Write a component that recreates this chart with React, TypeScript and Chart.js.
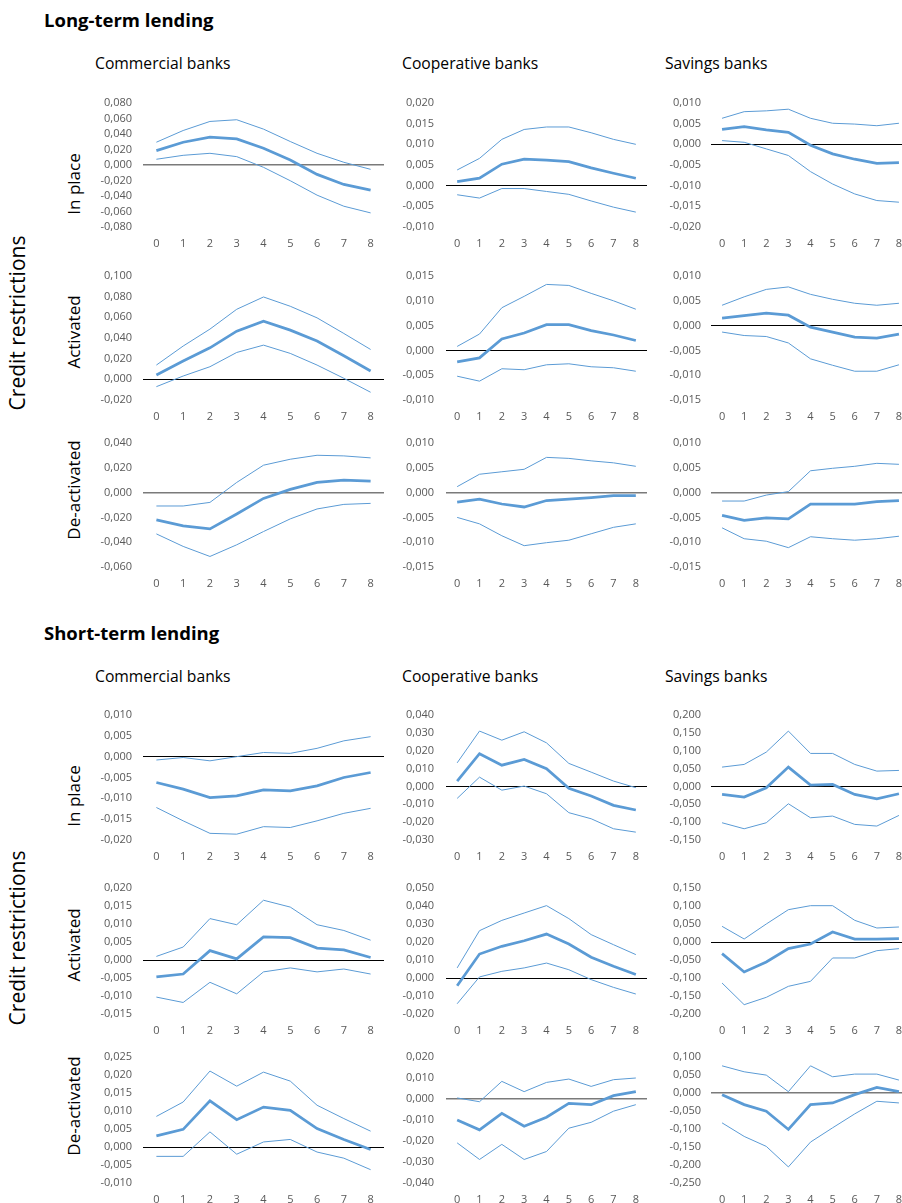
import React, { useEffect, useRef } from 'react';
import { Chart, registerables } from 'chart.js';
Chart.register(...registerables);

// ---------- categories ----------
const periods = ['0', '1', '2', '3', '4', '5', '6', '7', '8'];
const sectionTitles = ['Long-term lending', 'Short-term lending'];
const bankTypes = ['Commercial banks', 'Cooperative banks', 'Savings banks'];
const scenarios = ['In place', 'Activated', 'De-activated'];
const sideTitle = 'Credit restrictions';

// ---------- Long-term lending ----------
const ltComInPlaceMid = [0.0186, 0.0294, 0.0359, 0.0337, 0.0216, 0.0065, -0.0121, -0.0251, -0.0324];
const ltComInPlaceUp = [0.0294, 0.0445, 0.0562, 0.0584, 0.0463, 0.0303, 0.0151, 0.0035, -0.0056];
const ltComInPlaceLo = [0.0074, 0.0125, 0.0151, 0.0108, -0.003, -0.0203, -0.0389, -0.0532, -0.0618];

const ltCoopInPlaceMid = [0.001, 0.0018, 0.0052, 0.0064, 0.0062, 0.0058, 0.0043, 0.003, 0.0018];
const ltCoopInPlaceUp = [0.0038, 0.0066, 0.0112, 0.0136, 0.0142, 0.0142, 0.0128, 0.0112, 0.01];
const ltCoopInPlaceLo = [-0.0022, -0.003, -0.0007, -0.0007, -0.0014, -0.0021, -0.0037, -0.0052, -0.0064];

const ltSavInPlaceMid = [0.0036, 0.0043, 0.0035, 0.0029, -0.0002, -0.0023, -0.0036, -0.0046, -0.0044];
const ltSavInPlaceUp = [0.0063, 0.0079, 0.0081, 0.0085, 0.0063, 0.0051, 0.0049, 0.0045, 0.0051];
const ltSavInPlaceLo = [0.0009, 0.0005, -0.0011, -0.0027, -0.0066, -0.0096, -0.012, -0.0136, -0.014];

const ltComActMid = [0.0042, 0.0177, 0.0305, 0.0466, 0.0563, 0.0476, 0.037, 0.0228, 0.008];
const ltComActUp = [0.0138, 0.0322, 0.0486, 0.0678, 0.0797, 0.0707, 0.0595, 0.0444, 0.0289];
const ltComActLo = [-0.0071, 0.0032, 0.0122, 0.026, 0.0331, 0.0251, 0.0138, 0.001, -0.0125];

const ltCoopActMid = [-0.0023, -0.0015, 0.0023, 0.0035, 0.0052, 0.0052, 0.004, 0.0031, 0.002];
const ltCoopActUp = [0.0008, 0.0033, 0.0086, 0.0109, 0.0133, 0.0131, 0.0115, 0.01, 0.0083];
const ltCoopActLo = [-0.0052, -0.0062, -0.0037, -0.0039, -0.0029, -0.0027, -0.0033, -0.0035, -0.0042];

const ltSavActMid = [0.0015, 0.002, 0.0025, 0.0021, -0.0003, -0.0013, -0.0023, -0.0025, -0.0017];
const ltSavActUp = [0.0041, 0.0058, 0.0073, 0.0078, 0.0063, 0.0053, 0.0045, 0.0041, 0.0045];
const ltSavActLo = [-0.0013, -0.002, -0.0022, -0.0035, -0.0067, -0.008, -0.0092, -0.0092, -0.0079];

const ltComDeactMid = [-0.022, -0.0268, -0.0293, -0.0172, -0.0047, 0.0026, 0.0082, 0.0101, 0.0093];
const ltComDeactUp = [-0.0108, -0.0108, -0.0079, 0.0082, 0.0221, 0.0269, 0.0301, 0.0296, 0.028];
const ltComDeactLo = [-0.0333, -0.0434, -0.0515, -0.0421, -0.0314, -0.0212, -0.0132, -0.0095, -0.0087];

const ltCoopDeactMid = [-0.0019, -0.0013, -0.0023, -0.0029, -0.0016, -0.0013, -0.001, -0.0006, -0.0006];
const ltCoopDeactUp = [0.0012, 0.0037, 0.0042, 0.0047, 0.0071, 0.0069, 0.0064, 0.006, 0.0053];
const ltCoopDeactLo = [-0.005, -0.0063, -0.0087, -0.0107, -0.0101, -0.0096, -0.0083, -0.007, -0.0063];

const ltSavDeactMid = [-0.0046, -0.0056, -0.0051, -0.0053, -0.0023, -0.0023, -0.0023, -0.0018, -0.0016];
const ltSavDeactUp = [-0.0017, -0.0017, -0.0005, 0.0002, 0.0044, 0.0049, 0.0053, 0.0059, 0.0057];
const ltSavDeactLo = [-0.0071, -0.0093, -0.0098, -0.0111, -0.0089, -0.0093, -0.0096, -0.0093, -0.0088];

// ---------- Short-term lending ----------
const stComInPlaceMid = [-0.0062, -0.0078, -0.0098, -0.0094, -0.008, -0.0082, -0.007, -0.005, -0.0038];
const stComInPlaceUp = [-0.0008, -0.0002, -0.001, 0, 0.001, 0.0008, 0.002, 0.0038, 0.0048];
const stComInPlaceLo = [-0.0122, -0.0154, -0.0184, -0.0186, -0.0168, -0.017, -0.0154, -0.0136, -0.0124];

const stCoopInPlaceMid = [0.003, 0.0183, 0.0119, 0.0151, 0.0099, -0.0011, -0.0054, -0.0106, -0.0132];
const stCoopInPlaceUp = [0.0132, 0.031, 0.0259, 0.0306, 0.0244, 0.0129, 0.008, 0.003, -0.0007];
const stCoopInPlaceLo = [-0.0067, 0.0052, -0.0021, 0.0002, -0.0041, -0.0147, -0.0181, -0.0237, -0.0256];

const stSavInPlaceMid = [-0.0224, -0.0299, -0.0037, 0.0541, 0.0037, 0.0056, -0.0224, -0.0345, -0.0205];
const stSavInPlaceUp = [0.0541, 0.0616, 0.0961, 0.1549, 0.0924, 0.0924, 0.0616, 0.0429, 0.0448];
const stSavInPlaceLo = [-0.1017, -0.1185, -0.1017, -0.0485, -0.0877, -0.083, -0.1063, -0.111, -0.0812];

const stComActMid = [-0.0047, -0.0039, 0.0026, 0.0003, 0.0064, 0.0062, 0.0033, 0.0028, 0.0007];
const stComActUp = [0.001, 0.0036, 0.0115, 0.0098, 0.0166, 0.0147, 0.0098, 0.0082, 0.0055];
const stComActLo = [-0.0103, -0.0118, -0.0062, -0.0094, -0.0033, -0.0022, -0.0033, -0.0025, -0.0039];

const stCoopActMid = [-0.0043, 0.0133, 0.0176, 0.0207, 0.0244, 0.0189, 0.0115, 0.0065, 0.0019];
const stCoopActUp = [0.0056, 0.0263, 0.032, 0.0361, 0.0402, 0.033, 0.0241, 0.0185, 0.013];
const stCoopActLo = [-0.0143, 0.0006, 0.0037, 0.0056, 0.0083, 0.0046, -0.0009, -0.0052, -0.0089];

const stSavActMid = [-0.0324, -0.0833, -0.0556, -0.0185, -0.0056, 0.0278, 0.0083, 0.0083, 0.0093];
const stSavActUp = [0.0435, 0.0083, 0.05, 0.0898, 0.1009, 0.1009, 0.0602, 0.0389, 0.0417];
const stSavActLo = [-0.1139, -0.1741, -0.1537, -0.1231, -0.1093, -0.0444, -0.0444, -0.0241, -0.0185];

const stComDeactMid = [0.0031, 0.0049, 0.0128, 0.0076, 0.0111, 0.0102, 0.0051, 0.0021, -0.0007];
const stComDeactUp = [0.0085, 0.0125, 0.0211, 0.0169, 0.0208, 0.0183, 0.0116, 0.0079, 0.0044];
const stComDeactLo = [-0.0026, -0.0026, 0.0042, -0.002, 0.0014, 0.0021, -0.0014, -0.0031, -0.0063];

const stCoopDeactMid = [-0.01, -0.0147, -0.0068, -0.013, -0.0087, -0.0021, -0.0027, 0.0016, 0.0035];
const stCoopDeactUp = [0.0005, -0.0013, 0.0084, 0.0035, 0.0079, 0.0095, 0.006, 0.0092, 0.01];
const stCoopDeactLo = [-0.0209, -0.0288, -0.0216, -0.0288, -0.025, -0.0139, -0.0111, -0.0058, -0.0027];

const stSavDeactMid = [-0.0046, -0.0322, -0.0506, -0.1013, -0.0322, -0.0276, -0.0046, 0.0157, 0.0037];
const stSavDeactUp = [0.0755, 0.0589, 0.0497, 0.0037, 0.0755, 0.0451, 0.0525, 0.0525, 0.0359];
const stSavDeactLo = [-0.0829, -0.1206, -0.1483, -0.2053, -0.1363, -0.0967, -0.058, -0.023, -0.0276];

// ---------- y-axis ranges [min, max, step] per panel ----------
const yRangesLT = [
  [[-0.08, 0.08, 0.02], [-0.01, 0.02, 0.005], [-0.02, 0.01, 0.005]],
  [[-0.02, 0.1, 0.02], [-0.01, 0.015, 0.005], [-0.015, 0.01, 0.005]],
  [[-0.06, 0.04, 0.02], [-0.015, 0.01, 0.005], [-0.015, 0.01, 0.005]],
];
const yRangesST = [
  [[-0.02, 0.01, 0.005], [-0.03, 0.04, 0.01], [-0.15, 0.2, 0.05]],
  [[-0.015, 0.02, 0.005], [-0.02, 0.05, 0.01], [-0.2, 0.15, 0.05]],
  [[-0.01, 0.025, 0.005], [-0.04, 0.02, 0.01], [-0.25, 0.1, 0.05]],
];

// ---------- layout / style ----------
const BLUE = '#5B9BD5';
const TICK_COLOR = '#595959';
const FONT = '"Open Sans", "Noto Sans", sans-serif';
const TICK_SIZE = 11;
const COLS = [
  { left: 143, right: 384, pad: 11 },
  { left: 446, right: 647, pad: 12 },
  { left: 711, right: 910, pad: 10 },
];
const ROWS = [
  { top: 103, bottom: 227 },
  { top: 276, bottom: 400 },
  { top: 443, bottom: 567 },
  { top: 715, bottom: 840 },
  { top: 888, bottom: 1014 },
  { top: 1057, bottom: 1183 },
];
const Y_W = 60;
const X_H = 30;
const PAD_T = 10;
const PAD_R = 2;
const GRAY_ZERO = [
  [true, false, false],
  [false, false, false],
  [true, true, true],
  [false, false, false],
  [false, false, false],
  [false, true, true],
];

const seriesLT = [
  [[ltComInPlaceMid, ltComInPlaceUp, ltComInPlaceLo], [ltCoopInPlaceMid, ltCoopInPlaceUp, ltCoopInPlaceLo], [ltSavInPlaceMid, ltSavInPlaceUp, ltSavInPlaceLo]],
  [[ltComActMid, ltComActUp, ltComActLo], [ltCoopActMid, ltCoopActUp, ltCoopActLo], [ltSavActMid, ltSavActUp, ltSavActLo]],
  [[ltComDeactMid, ltComDeactUp, ltComDeactLo], [ltCoopDeactMid, ltCoopDeactUp, ltCoopDeactLo], [ltSavDeactMid, ltSavDeactUp, ltSavDeactLo]],
];
const seriesST = [
  [[stComInPlaceMid, stComInPlaceUp, stComInPlaceLo], [stCoopInPlaceMid, stCoopInPlaceUp, stCoopInPlaceLo], [stSavInPlaceMid, stSavInPlaceUp, stSavInPlaceLo]],
  [[stComActMid, stComActUp, stComActLo], [stCoopActMid, stCoopActUp, stCoopActLo], [stSavActMid, stSavActUp, stSavActLo]],
  [[stComDeactMid, stComDeactUp, stComDeactLo], [stCoopDeactMid, stCoopDeactUp, stCoopDeactLo], [stSavDeactMid, stSavDeactUp, stSavDeactLo]],
];

const fmt = (v: number) => {
  if (Math.abs(v) < 1e-9) return '0,000';
  return (v < 0 ? '-' : '') + Math.abs(v).toFixed(3).replace('.', ',');
};

type PanelDef = {
  key: string;
  mid: number[];
  up: number[];
  lo: number[];
  min: number;
  max: number;
  step: number;
  row: number;
  col: number;
  gray: boolean;
};

const panels: PanelDef[] = [];
[seriesLT, seriesST].forEach((sec, s) => {
  const ranges = s === 0 ? yRangesLT : yRangesST;
  sec.forEach((rowSeries, r) => {
    rowSeries.forEach((trip, c) => {
      const row = s * 3 + r;
      panels.push({
        key: `${row}-${c}`,
        mid: trip[0],
        up: trip[1],
        lo: trip[2],
        min: ranges[r][c][0],
        max: ranges[r][c][1],
        step: ranges[r][c][2],
        row,
        col: c,
        gray: GRAY_ZERO[row][c],
      });
    });
  });
});

function Panel({ p }: { p: PanelDef }) {
  const ref = useRef<HTMLCanvasElement>(null);
  const col = COLS[p.col];
  const row = ROWS[p.row];
  const w = Y_W + (col.right - col.left) + PAD_R;
  const h = PAD_T + (row.bottom - row.top) + X_H;
  const left = col.left - Y_W;
  const top = row.top - PAD_T;

  useEffect(() => {
    const zeroColor = p.gray ? '#7a7a7a' : '#000000';
    const zeroWidth = p.gray ? 1.6 : 1;
    const isZero = (ctx: any) => ctx.tick && Math.abs(ctx.tick.value) < 1e-9;
    const chart = new Chart(ref.current as HTMLCanvasElement, {
      type: 'line',
      data: {
        labels: periods,
        datasets: [
          { data: p.mid, borderColor: BLUE, borderWidth: 2.75, pointRadius: 0, tension: 0, fill: false },
          { data: p.up, borderColor: BLUE, borderWidth: 1, pointRadius: 0, tension: 0, fill: false },
          { data: p.lo, borderColor: BLUE, borderWidth: 1, pointRadius: 0, tension: 0, fill: false },
        ],
      },
      options: {
        animation: false,
        responsive: false,
        maintainAspectRatio: false,
        events: [],
        layout: { padding: { top: PAD_T, right: PAD_R, left: 0, bottom: 0 } },
        plugins: { legend: { display: false }, tooltip: { enabled: false }, title: { display: false } },
        scales: {
          x: {
            type: 'category',
            offset: true,
            grid: { display: false, drawTicks: false },
            border: { display: false },
            ticks: { padding: 10, color: TICK_COLOR, font: { family: FONT, size: TICK_SIZE }, autoSkip: false, maxRotation: 0 },
            afterFit: (s: any) => {
              s.height = X_H;
              s.paddingLeft = 0;
              s.paddingRight = 0;
            },
          },
          y: {
            type: 'linear',
            min: p.min,
            max: p.max,
            ticks: {
              stepSize: p.step,
              padding: col.pad,
              color: TICK_COLOR,
              font: { family: FONT, size: TICK_SIZE },
              autoSkip: false,
              callback: (v: any) => fmt(Number(v)),
            },
            grid: {
              drawTicks: false,
              color: (ctx: any) => (isZero(ctx) ? zeroColor : 'rgba(0,0,0,0)'),
              lineWidth: (ctx: any) => (isZero(ctx) ? zeroWidth : 0),
            },
            border: { display: false },
            afterFit: (s: any) => {
              s.width = Y_W;
              s.paddingTop = 0;
              s.paddingBottom = 0;
            },
          },
        },
      },
    } as any);
    return () => chart.destroy();
  }, []);

  return (
    <canvas
      ref={ref}
      width={w}
      height={h}
      style={{ position: 'absolute', left, top, width: w, height: h }}
    />
  );
}

const textBase: React.CSSProperties = {
  position: 'absolute',
  fontFamily: FONT,
  color: '#000',
  whiteSpace: 'nowrap',
};

function Rotated({ text, cx, cy, size }: { text: string; cx: number; cy: number; size: number }) {
  return (
    <div
      style={{
        ...textBase,
        left: cx,
        top: cy,
        fontSize: size,
        lineHeight: `${Math.round(size * 1.3)}px`,
        transform: 'translate(-50%, -50%) rotate(-90deg)',
      }}
    >
      {text}
    </div>
  );
}

const sectionTitleTops = [10, 623];
const bankTitleTops = [53, 666];
const bankTitleLefts = [95, 402, 665];
const sideTitleCenters = [323, 938];
const scenarioCenters = [184, 332, 490, 796, 945, 1106];

export default function App() {
  return (
    <div
      style={{
        position: 'absolute',
        left: 0,
        top: 0,
        width: 902,
        height: 1203,
        overflow: 'hidden',
        background: '#fff',
      }}
    >
      {sectionTitles.map((t, i) => (
        <div key={t} style={{ ...textBase, left: 44, top: sectionTitleTops[i], fontSize: 18.5, fontWeight: 700, lineHeight: '20px' }}>
          {t}
        </div>
      ))}
      {[0, 1].map((s) =>
        bankTypes.map((b, c) => (
          <div key={`${s}-${b}`} style={{ ...textBase, left: bankTitleLefts[c], top: bankTitleTops[s], fontSize: 15.7, lineHeight: '20px' }}>
            {b}
          </div>
        ))
      )}
      {sideTitleCenters.map((cy, i) => (
        <Rotated key={`side-${i}`} text={sideTitle} cx={17} cy={cy} size={21} />
      ))}
      {scenarioCenters.map((cy, i) => (
        <Rotated key={`sc-${i}`} text={scenarios[i % 3]} cx={74} cy={cy} size={17} />
      ))}
      {panels.map((p) => (
        <Panel key={p.key} p={p} />
      ))}
    </div>
  );
}
